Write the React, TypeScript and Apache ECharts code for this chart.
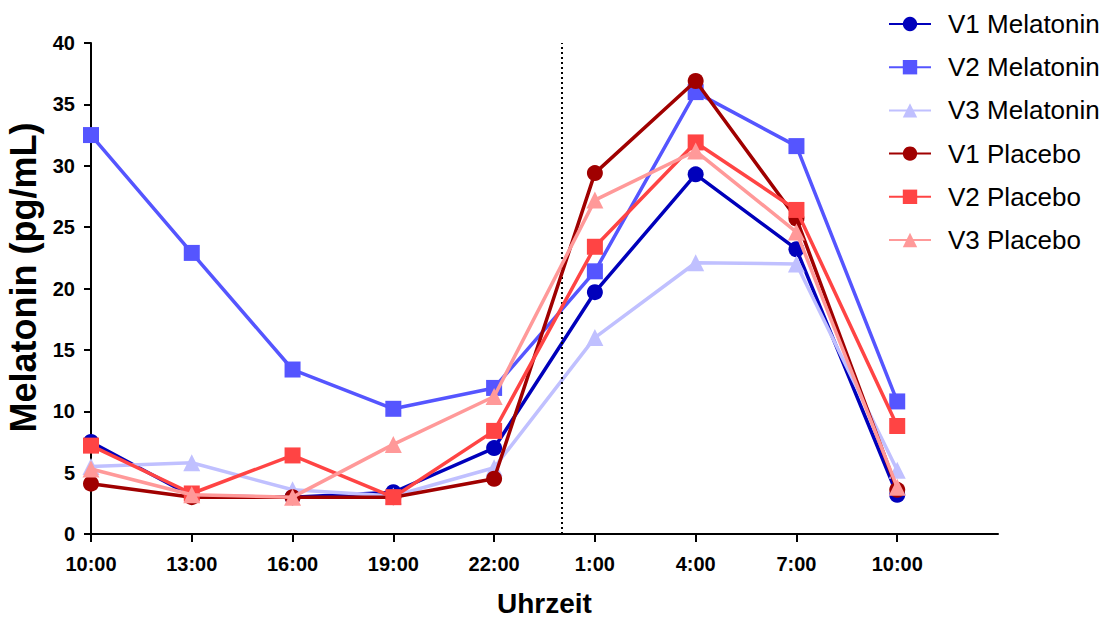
import React, { useEffect, useRef } from "react";
import * as echarts from "echarts";

const timeLabels = ["10:00", "13:00", "16:00", "19:00", "22:00", "1:00", "4:00", "7:00", "10:00"];
const xIndex = [0, 1, 2, 3, 4, 5, 6, 7, 8];
const midnightPos = 4 + 2 / 3;

const v1Melatonin = [7.5, 3.1, 3.0, 3.4, 7.0, 19.7, 29.3, 23.2, 3.2];
const v2Melatonin = [32.5, 22.9, 13.4, 10.2, 11.9, 21.4, 36.0, 31.6, 10.8];
const v3Melatonin = [5.5, 5.8, 3.6, 3.1, 5.4, 16.0, 22.1, 22.0, 5.2];
const v1Placebo = [4.1, 3.0, 3.0, 3.0, 4.5, 29.4, 36.9, 25.7, 3.6];
const v2Placebo = [7.2, 3.3, 6.4, 3.0, 8.4, 23.4, 31.9, 26.4, 8.8];
const v3Placebo = [5.3, 3.2, 3.0, 7.3, 11.2, 27.2, 31.2, 24.6, 3.8];

const seriesDefs = [
  { name: "V1 Melatonin", data: v1Melatonin, color: "#0000BB", symbol: "circle", size: 16 },
  { name: "V2 Melatonin", data: v2Melatonin, color: "#5555FF", symbol: "rect", size: 16 },
  { name: "V3 Melatonin", data: v3Melatonin, color: "#C0C0FF", symbol: "triangle", size: 17 },
  { name: "V1 Placebo", data: v1Placebo, color: "#A00000", symbol: "circle", size: 16 },
  { name: "V2 Placebo", data: v2Placebo, color: "#FF4444", symbol: "rect", size: 16 },
  { name: "V3 Placebo", data: v3Placebo, color: "#FF9999", symbol: "triangle", size: 17 },
];

const FONT = "Arial, 'Liberation Sans', sans-serif";

export default function App() {
  const ref = useRef<HTMLDivElement>(null);
  useEffect(() => {
    if (!ref.current) return;
    const chart = echarts.init(ref.current, null, { renderer: "svg" });
    const series: any[] = seriesDefs.map((s, i) => ({
      name: s.name,
      type: "line",
      data: s.data.map((v, k) => [xIndex[k], v]),
      symbol: s.symbol,
      symbolSize: s.size,
      lineStyle: { color: s.color, width: 3.5 },
      itemStyle: { color: s.color },
      z: 2 + i,
      markLine:
        i === 0
          ? {
              silent: true,
              symbol: "none",
              label: { show: false },
              lineStyle: { color: "#000", type: [2, 3], width: 2 },
              data: [{ xAxis: midnightPos }],
            }
          : undefined,
    }));
    chart.setOption({
      animation: false,
      backgroundColor: "#fff",
      grid: { left: 91, top: 43, right: 112, bottom: 84, containLabel: false, outerBoundsMode: "none" },
      legend: {
        orient: "vertical",
        left: 883,
        top: 6,
        itemWidth: 42,
        itemHeight: 18,
        itemGap: 17.2,
        textStyle: { fontFamily: FONT, fontSize: 26, lineHeight: 26, color: "#000", padding: [0, 0, 0, 12] },
        data: seriesDefs.map((s) => s.name),
      },
      xAxis: {
        type: "value",
        min: 0,
        max: 9,
        interval: 1,
        name: "Uhrzeit",
        nameLocation: "middle",
        nameGap: 55,
        nameTextStyle: { fontFamily: FONT, fontSize: 28, lineHeight: 28, fontWeight: "bold", color: "#000" },
        splitLine: { show: false },
        axisLine: { lineStyle: { color: "#000", width: 2 } },
        axisTick: { show: true, length: 8, lineStyle: { color: "#000", width: 2 }, customValues: xIndex },
        axisLabel: {
          customValues: xIndex,
          formatter: (v: number) => timeLabels[Math.round(v)] ?? "",
          fontFamily: FONT,
          fontSize: 20,
          fontWeight: "bold",
          color: "#000",
          margin: 20,
        },
      },
      yAxis: {
        type: "value",
        min: 0,
        max: 40,
        interval: 5,
        name: "Melatonin (pg/mL)",
        nameLocation: "middle",
        nameGap: 43,
        nameTextStyle: {
          fontFamily: FONT,
          fontSize: 36,
          lineHeight: 36,
          fontWeight: "bold",
          color: "#000",
          padding: [0, 0, 0, 22],
        },
        splitLine: { show: false },
        axisLine: { show: true, lineStyle: { color: "#000", width: 2 } },
        axisTick: { show: true, length: 7, lineStyle: { color: "#000", width: 2 } },
        axisLabel: { fontFamily: FONT, fontSize: 20, fontWeight: "bold", color: "#000", margin: 16 },
      },
      series,
    });
    return () => chart.dispose();
  }, []);
  return (
    <div
      ref={ref}
      style={{ position: "fixed", left: 0, top: 0, width: 1110, height: 618, background: "#fff" }}
    />
  );
}
